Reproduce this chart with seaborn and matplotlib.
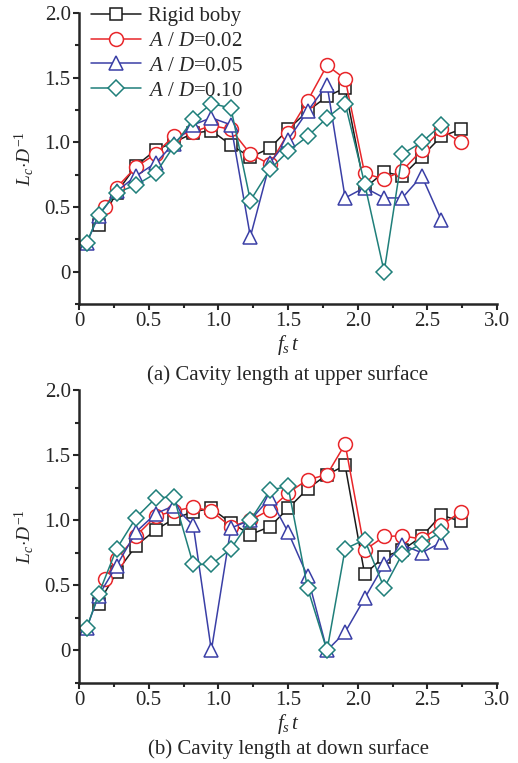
import numpy as np
import pandas as pd
import matplotlib
matplotlib.use('Agg')
import matplotlib.pyplot as plt
import seaborn as sb
from matplotlib.ticker import MultipleLocator, FuncFormatter

# time points (fs*t)
t_all = [0.055, 0.14, 0.27, 0.41, 0.55, 0.68, 0.82, 0.95, 1.09, 1.23, 1.37,
         1.50, 1.64, 1.78, 1.91, 2.05, 2.19, 2.32, 2.46, 2.60, 2.74]
t_red = [0.19] + t_all[2:]

# (a) upper surface
up_rigid = [0.36, 0.61, 0.82, 0.94, 1.00, 1.07, 1.09, 0.98, 0.885, 0.955,
            1.10, 1.24, 1.355, 1.42, 0.645, 0.77, 0.74, 0.89, 1.045, 1.10]
up_002 = [0.50, 0.65, 0.81, 0.91, 1.05, 1.08, 1.13, 1.10, 0.91, 0.83,
          1.07, 1.32, 1.595, 1.49, 0.76, 0.715, 0.78, 0.94, 1.10, 1.00]
up_005 = [0.22, 0.43, 0.62, 0.74, 0.84, 0.99, 1.135, 1.19, 1.135, 0.27, 0.84,
          1.02, 1.24, 1.445, 0.57, 0.65, 0.57, 0.57, 0.74, 0.40]
up_010 = [0.22, 0.44, 0.61, 0.67, 0.76, 0.97, 1.18, 1.30, 1.265, 0.55, 0.79,
          0.93, 1.045, 1.19, 1.30, 0.68, 0.00, 0.91, 1.00, 1.135]

# (b) down surface
dn_rigid = [0.36, 0.60, 0.805, 0.925, 1.01, 1.065, 1.09, 0.98, 0.89, 0.95,
            1.09, 1.24, 1.35, 1.42, 0.585, 0.72, 0.77, 0.875, 1.04, 0.99]
dn_002 = [0.55, 0.70, 0.88, 1.03, 1.07, 1.10, 1.07, 0.95, 1.00, 1.08,
          1.21, 1.31, 1.35, 1.585, 0.77, 0.875, 0.88, 0.855, 0.96, 1.065]
dn_005 = [0.17, 0.42, 0.65, 0.91, 1.05, 1.11, 0.96, 0.00, 0.94, 1.00, 1.17,
          0.91, 0.57, 0.00, 0.14, 0.40, 0.66, 0.81, 0.75, 0.83]
dn_010 = [0.17, 0.43, 0.78, 1.02, 1.17, 1.18, 0.66, 0.66, 0.78, 1.00, 1.23,
          1.26, 0.48, 0.00, 0.78, 0.85, 0.48, 0.74, 0.82, 0.91]

labels = ['Rigid boby', '$A$ / $D$=0.02', '$A$ / $D$=0.05', '$A$ / $D$=0.10']
captions = ['(a) Cavity length at upper surface', '(b) Cavity length at down surface']

sb.set_style('ticks')
plt.rcParams['font.family'] = ['Liberation Serif', 'DejaVu Serif']
plt.rcParams['mathtext.fontset'] = 'custom'
plt.rcParams['mathtext.rm'] = 'Liberation Serif'
plt.rcParams['mathtext.it'] = 'Liberation Serif:italic'
plt.rcParams['font.size'] = 15

colors = ['#1a1a1a', '#e8262a', '#3a3fa6', '#1f7f7a']
markers = ['s', 'o', '^', 'D']
msizes = [8, 10, 10, 8.5]

fig = plt.figure(figsize=(5.18, 7.63), dpi=100)
ax1 = fig.add_axes([0.1525, 0.6016, 0.807, 0.3814])
ax2 = fig.add_axes([0.1525, 0.1049, 0.807, 0.3840])

panels = [
    (ax1, [up_rigid, up_002, up_005, up_010]),
    (ax2, [dn_rigid, dn_002, dn_005, dn_010]),
]
xs = [t_all[1:], t_red, t_all[:-1], t_all[:-1]]
cap_y = [-0.21, -0.19]

def fmt(v, pos):
    return '0' if abs(v) < 1e-9 else f'{v:.1f}'

for k, (ax, series) in enumerate(panels):
    for i, ys in enumerate(series):
        sb.lineplot(x=xs[i], y=ys, ax=ax, color=colors[i], marker=markers[i],
                    markersize=msizes[i], markerfacecolor='white',
                    markeredgecolor=colors[i], markeredgewidth=1.1,
                    linewidth=1.1, label=labels[i] if k == 0 else None,
                    sort=False)
    ax.set_xlim(0, 3.0)
    ax.set_ylim(-0.25, 2.0)
    ax.xaxis.set_major_locator(MultipleLocator(0.5))
    ax.xaxis.set_minor_locator(MultipleLocator(0.25))
    ax.yaxis.set_major_locator(MultipleLocator(0.5))
    ax.yaxis.set_minor_locator(MultipleLocator(0.25))
    ax.xaxis.set_major_formatter(FuncFormatter(fmt))
    ax.yaxis.set_major_formatter(FuncFormatter(fmt))
    ax.tick_params(which='major', direction='out', length=4, width=1.5, labelsize=15, pad=2)
    ax.tick_params(which='minor', direction='out', length=3, width=1.5)
    for s in ['left', 'bottom']:
        ax.spines[s].set_linewidth(1.8)
    sb.despine(ax=ax)
    ax.set_xlabel('$f_s\\,t$', labelpad=1, fontsize=15)
    ax.set_ylabel(r'$L_c\!\cdot\!D^{-1}$', labelpad=6, fontsize=14)
    ax.text(0.5, cap_y[k], captions[k], transform=ax.transAxes, ha='center',
            va='top', fontsize=15)

leg = ax1.legend(loc='upper left', bbox_to_anchor=(0.0, 1.065), frameon=False,
                 handlelength=2.4, handletextpad=0.3, labelspacing=0.25,
                 borderaxespad=0.2, fontsize=15)

fig.savefig('out.png', dpi=100)
